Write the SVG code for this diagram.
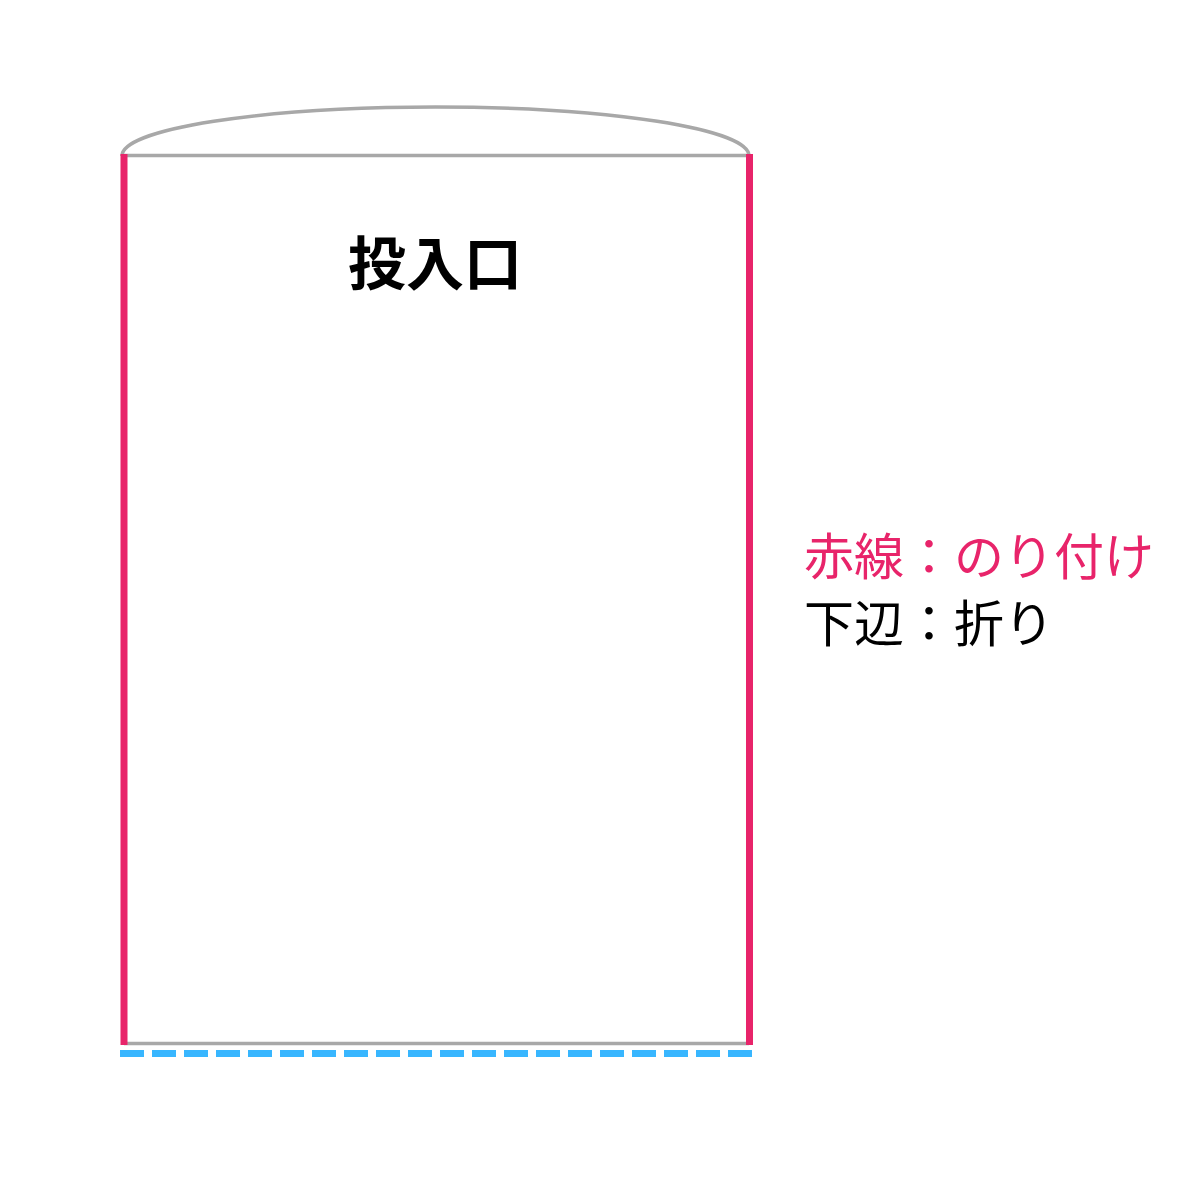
<svg xmlns="http://www.w3.org/2000/svg" width="1200" height="1200" viewBox="0 0 1200 1200">
<style>
.gray{fill:none;stroke:#a8a8a8;stroke-width:3.5}
.red{fill:none;stroke:#e8246a;stroke-width:7}
.fold{fill:none;stroke:#38b6ff;stroke-width:7;stroke-dasharray:24 8}
.t{font-family:"Noto Sans CJK JP","Noto Sans",sans-serif}
</style>
<rect width="1200" height="1200" fill="#ffffff"/>
<g id="bag">
<path class="gray" d="M122,156 A313.5 49 0 0 1 749,156"/>
<line class="gray" x1="124" y1="155.5" x2="749" y2="155.5"/>
<line class="gray" x1="124" y1="1043.5" x2="749" y2="1043.5"/>
<line class="red" x1="124" y1="154" x2="124" y2="1045"/>
<line class="red" x1="749.5" y1="154" x2="749.5" y2="1045"/>
<line class="fold" x1="120" y1="1053.5" x2="752" y2="1053.5"/>
</g>
<g id="label-opening">
<text class="t" x="435" y="285" font-size="58" font-weight="bold" text-anchor="middle" fill="#000">投入口</text>
</g>
<g id="legend">
<text class="t" x="804" y="575" font-size="50" fill="#e8246a">赤線：のり付け</text>
<text class="t" x="804" y="642" font-size="50" fill="#000">下辺：折り</text>
</g>
</svg>
